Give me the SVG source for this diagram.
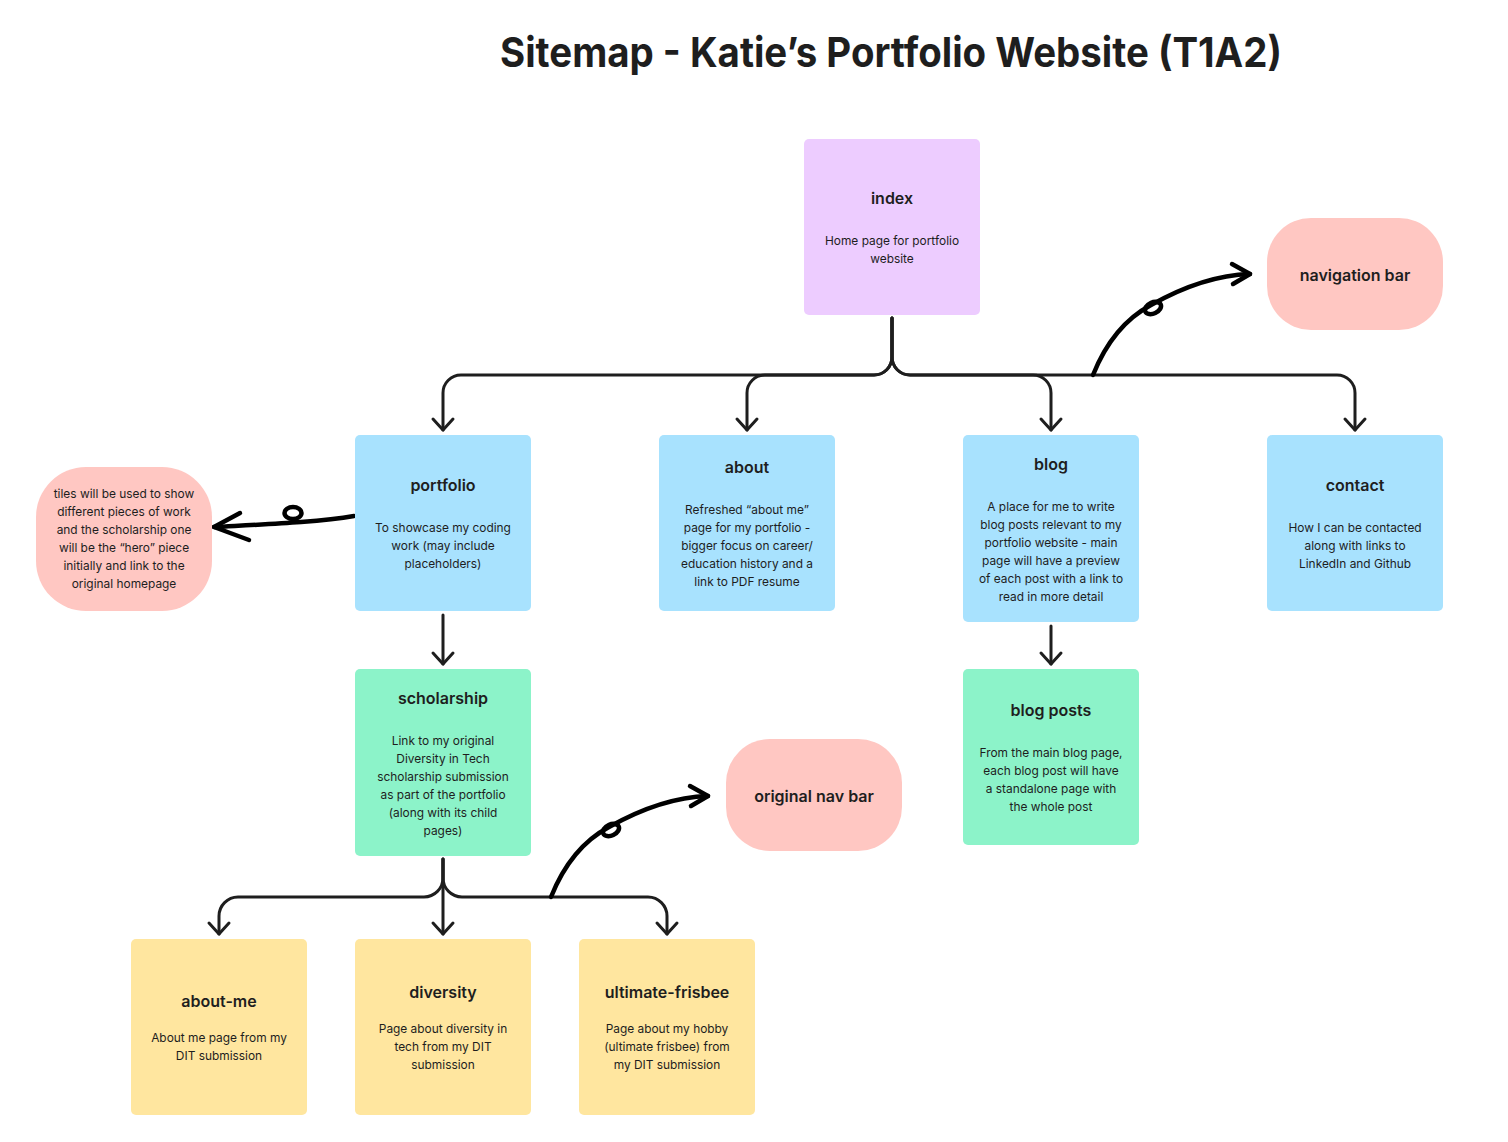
<svg xmlns="http://www.w3.org/2000/svg" width="1508" height="1142" viewBox="0 0 1508 1142">
  <style>
    .bg { fill: #ffffff; }
    .purple { fill: #EDCCFF; }
    .blue { fill: #A8E2FE; }
    .green { fill: #8CF3C9; }
    .yellow { fill: #FFE69F; }
    .pink { fill: #FFC7C2; }
    text { font-family: Inter, "Noto Sans", "Liberation Sans", sans-serif; fill: #1E1E1E; text-anchor: middle; }
    .title { font-size: 41px; font-weight: 700; }
    .h { font-size: 16px; font-weight: 600; }
    .b { font-size: 11.9px; font-weight: 400; }
    .conn { fill: none; stroke: #1E1E1E; stroke-width: 3; stroke-linecap: round; stroke-linejoin: round; }
    .ink { fill: none; stroke: #000000; stroke-width: 4.5; stroke-linecap: round; stroke-linejoin: round; }
  </style>
  <defs>
    <marker id="chev" markerUnits="userSpaceOnUse" orient="auto" overflow="visible" refX="0" refY="0" markerWidth="1" markerHeight="1">
      <path d="M-11,-10 L0,0 L-11,10" fill="none" stroke="#1E1E1E" stroke-width="3" stroke-linecap="round" stroke-linejoin="round"/>
    </marker>
    <!-- hand-drawn looped arrow, drawn from its start point at 0,0 -->
    <g id="loopArrow">
      <path class="ink" d="M0,0 C12,-30 30,-55 58,-70 C90,-88 125,-100 157,-101"/>
      <ellipse class="ink" cx="60" cy="-67" rx="8.5" ry="5.5" transform="rotate(-25 60 -67)" stroke-width="5"/>
      <path class="ink" stroke-width="5" d="M139,-111 L157,-101 L140,-91"/>
    </g>
  </defs>

  <rect class="bg" x="0" y="0" width="1508" height="1142"/>

  <text class="title" x="891" y="67" textLength="782" lengthAdjust="spacingAndGlyphs">Sitemap - Katie’s Portfolio Website (T1A2)</text>

  <g id="connectors">
    <!-- index to top-level pages -->
    <path class="conn" marker-end="url(#chev)" d="M892,318 V357 A18,18 0 0 1 874,375 H461 A18,18 0 0 0 443,393 V430"/>
    <path class="conn" marker-end="url(#chev)" d="M892,318 V357 A18,18 0 0 1 874,375 H765 A18,18 0 0 0 747,393 V430"/>
    <path class="conn" marker-end="url(#chev)" d="M892,318 V357 A18,18 0 0 0 910,375 H1033 A18,18 0 0 1 1051,393 V430"/>
    <path class="conn" marker-end="url(#chev)" d="M892,318 V357 A18,18 0 0 0 910,375 H1337 A18,18 0 0 1 1355,393 V430"/>
    <!-- portfolio to scholarship, blog to blog posts -->
    <path class="conn" marker-end="url(#chev)" d="M443,615 V664"/>
    <path class="conn" marker-end="url(#chev)" d="M1051,626 V664"/>
    <!-- scholarship to child pages -->
    <path class="conn" marker-end="url(#chev)" d="M443,859 V878 A19,19 0 0 1 424,897 H238 A19,19 0 0 0 219,916 V934"/>
    <path class="conn" marker-end="url(#chev)" d="M443,859 V934"/>
    <path class="conn" marker-end="url(#chev)" d="M443,859 V878 A19,19 0 0 0 462,897 H648 A19,19 0 0 1 667,916 V934"/>
    <!-- hand-drawn notes -->
    <use href="#loopArrow" transform="translate(1093,375)"/>
    <use href="#loopArrow" transform="translate(551,897)"/>
    <g id="noteArrow">
      <path class="ink" stroke-width="5" d="M354,516 C320,522 270,524 214,527"/>
      <ellipse class="ink" cx="293" cy="513" rx="8.5" ry="6" stroke-width="5"/>
      <path class="ink" stroke-width="5.5" d="M240,513 L214,527 L249,540"/>
    </g>
  </g>

  <g id="index">
    <rect class="purple" x="804" y="139" width="176" height="176" rx="5"/>
    <text class="h" x="892" y="204">index</text>
    <text class="b" x="892" y="245">Home page for portfolio</text>
    <text class="b" x="892" y="263">website</text>
  </g>

  <g id="navigation-bar">
    <rect class="pink" x="1267" y="218" width="176" height="112" rx="44"/>
    <text class="h" x="1355" y="281">navigation bar</text>
  </g>

  <g id="tiles-note">
    <rect class="pink" x="36" y="467" width="176" height="144" rx="50"/>
    <text class="b" x="124" y="498">tiles will be used to show</text>
    <text class="b" x="124" y="516">different pieces of work</text>
    <text class="b" x="124" y="534">and the scholarship one</text>
    <text class="b" x="124" y="552">will be the “hero” piece</text>
    <text class="b" x="124" y="570">initially and link to the</text>
    <text class="b" x="124" y="588">original homepage</text>
  </g>

  <g id="portfolio">
    <rect class="blue" x="355" y="435" width="176" height="176" rx="5"/>
    <text class="h" x="443" y="491">portfolio</text>
    <text class="b" x="443" y="532">To showcase my coding</text>
    <text class="b" x="443" y="550">work (may include</text>
    <text class="b" x="443" y="568">placeholders)</text>
  </g>

  <g id="about">
    <rect class="blue" x="659" y="435" width="176" height="176" rx="5"/>
    <text class="h" x="747" y="473">about</text>
    <text class="b" x="747" y="514">Refreshed “about me”</text>
    <text class="b" x="747" y="532">page for my portfolio -</text>
    <text class="b" x="747" y="550">bigger focus on career/</text>
    <text class="b" x="747" y="568">education history and a</text>
    <text class="b" x="747" y="586">link to PDF resume</text>
  </g>

  <g id="blog">
    <rect class="blue" x="963" y="435" width="176" height="187" rx="5"/>
    <text class="h" x="1051" y="470">blog</text>
    <text class="b" x="1051" y="511">A place for me to write</text>
    <text class="b" x="1051" y="529">blog posts relevant to my</text>
    <text class="b" x="1051" y="547">portfolio website - main</text>
    <text class="b" x="1051" y="565">page will have a preview</text>
    <text class="b" x="1051" y="583">of each post with a link to</text>
    <text class="b" x="1051" y="601">read in more detail</text>
  </g>

  <g id="contact">
    <rect class="blue" x="1267" y="435" width="176" height="176" rx="5"/>
    <text class="h" x="1355" y="491">contact</text>
    <text class="b" x="1355" y="532">How I can be contacted</text>
    <text class="b" x="1355" y="550">along with links to</text>
    <text class="b" x="1355" y="568">LinkedIn and Github</text>
  </g>

  <g id="scholarship">
    <rect class="green" x="355" y="669" width="176" height="187" rx="5"/>
    <text class="h" x="443" y="704">scholarship</text>
    <text class="b" x="443" y="745">Link to my original</text>
    <text class="b" x="443" y="763">Diversity in Tech</text>
    <text class="b" x="443" y="781">scholarship submission</text>
    <text class="b" x="443" y="799">as part of the portfolio</text>
    <text class="b" x="443" y="817">(along with its child</text>
    <text class="b" x="443" y="835">pages)</text>
  </g>

  <g id="blog-posts">
    <rect class="green" x="963" y="669" width="176" height="176" rx="5"/>
    <text class="h" x="1051" y="716">blog posts</text>
    <text class="b" x="1051" y="757">From the main blog page,</text>
    <text class="b" x="1051" y="775">each blog post will have</text>
    <text class="b" x="1051" y="793">a standalone page with</text>
    <text class="b" x="1051" y="811">the whole post</text>
  </g>

  <g id="original-nav-bar">
    <rect class="pink" x="726" y="739" width="176" height="112" rx="44"/>
    <text class="h" x="814" y="802">original nav bar</text>
  </g>

  <g id="about-me">
    <rect class="yellow" x="131" y="939" width="176" height="176" rx="5"/>
    <text class="h" x="219" y="1007">about-me</text>
    <text class="b" x="219" y="1042">About me page from my</text>
    <text class="b" x="219" y="1060">DIT submission</text>
  </g>

  <g id="diversity">
    <rect class="yellow" x="355" y="939" width="176" height="176" rx="5"/>
    <text class="h" x="443" y="998">diversity</text>
    <text class="b" x="443" y="1033">Page about diversity in</text>
    <text class="b" x="443" y="1051">tech from my DIT</text>
    <text class="b" x="443" y="1069">submission</text>
  </g>

  <g id="ultimate-frisbee">
    <rect class="yellow" x="579" y="939" width="176" height="176" rx="5"/>
    <text class="h" x="667" y="998">ultimate-frisbee</text>
    <text class="b" x="667" y="1033">Page about my hobby</text>
    <text class="b" x="667" y="1051">(ultimate frisbee) from</text>
    <text class="b" x="667" y="1069">my DIT submission</text>
  </g>
</svg>
